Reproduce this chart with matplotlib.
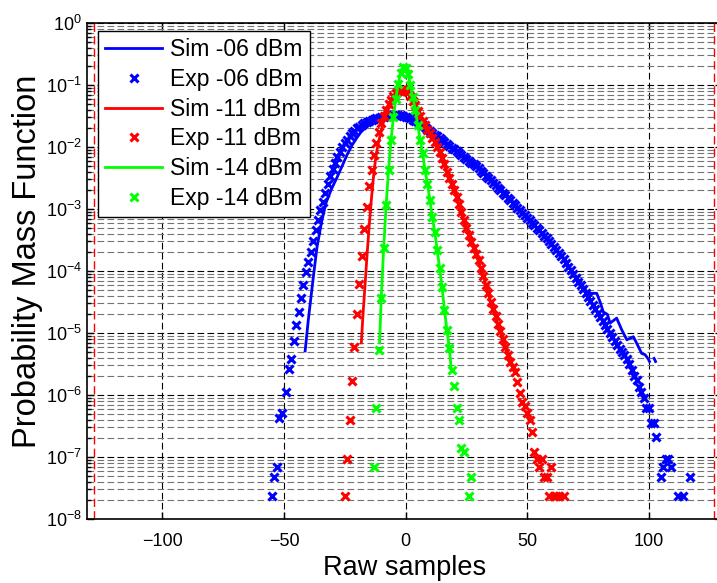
#%%imports
import matplotlib
matplotlib.use("Agg")
import matplotlib.pyplot as plt
from matplotlib.ticker import FixedLocator, NullFormatter, LogFormatterMathtext
import numpy as np

plt.rcParams["font.family"] = ["Liberation Sans", "DejaVu Sans"]
plt.rcParams["mathtext.fontset"] = "custom"
plt.rcParams["mathtext.rm"] = "Liberation Sans"
plt.rcParams["mathtext.default"] = "regular"

#%%data  (y values are log10 of the PMF)
# -06 dBm, experiment
blue_exp_x = [-55, -54, -53, -52, -51] + list(range(-49, 104)) + [105, 106, 107, 108, 109, 112, 114, 117]
blue_exp_ly = [-7.63, -7.32, -7.16, -6.37, -6.29,
               -5.95, -5.58, -5.42, -5.13, -4.87, -4.66, -4.44, -4.23, -4.02, -3.85,
               -3.69, -3.52, -3.34, -3.18, -3.02, -2.88, -2.74, -2.60, -2.47, -2.35,
               -2.25, -2.16, -2.08, -2.00, -1.94, -1.88, -1.83, -1.78, -1.74, -1.70,
               -1.67, -1.65, -1.62, -1.60, -1.58, -1.56, -1.55, -1.54, -1.53, -1.52,
               -1.51, -1.50, -1.50, -1.49, -1.49, -1.49, -1.49, -1.49, -1.50, -1.51,
               -1.52, -1.54, -1.56, -1.58, -1.60, -1.62, -1.65, -1.68, -1.71, -1.74,
               -1.77, -1.80, -1.83, -1.86, -1.89, -1.92, -1.95, -1.98, -2.01, -2.04,
               -2.07, -2.10, -2.13, -2.16, -2.19, -2.22, -2.25, -2.28, -2.31, -2.34,
               -2.38, -2.42, -2.46, -2.50, -2.54, -2.58, -2.62, -2.66, -2.70, -2.74,
               -2.78, -2.82, -2.86, -2.90, -2.94, -2.98, -3.02, -3.06, -3.10, -3.14,
               -3.18, -3.22, -3.26, -3.30, -3.34, -3.38, -3.43, -3.47, -3.52, -3.56,
               -3.61, -3.66, -3.71, -3.76, -3.81, -3.87, -3.93, -3.99, -4.05, -4.11,
               -4.17, -4.23, -4.29, -4.36, -4.42, -4.48, -4.55, -4.61, -4.67, -4.74,
               -4.80, -4.87, -4.93, -5.00, -5.06, -5.13, -5.20, -5.25, -5.30, -5.36,
               -5.42, -5.50, -5.60, -5.70, -5.76, -5.87, -5.95, -6.05, -6.21, -6.21,
               -6.45, -6.45, -6.68,
               -7.32, -7.16, -7.03, -7.03, -7.16, -7.63, -7.63, -7.32]

# -06 dBm, simulation
blue_sim_x = [-41.3, -40, -38, -36.4, -34.5, -32.7, -30.5, -28.3, -26, -24, -22, -20, -18, -15,
              -12, -8, -4, 0, 4, 8, 12, 16, 20, 25, 30, 35, 40, 45, 50, 55, 60, 65, 70, 75,
              78.6, 80, 81.3, 83, 84.1, 86.8, 88.9, 91, 93.7, 95.1, 97.1, 98.5, 99.8, 100.3,
              101, 102.2, 102.8]
blue_sim_ly = [-5.29, -4.79, -4.12, -3.61, -3.20, -2.90, -2.68, -2.50, -2.30, -2.12, -1.97, -1.85,
               -1.74, -1.64, -1.57, -1.52, -1.50, -1.51, -1.58, -1.68, -1.80, -1.91, -2.03,
               -2.16, -2.31, -2.50, -2.70, -2.92, -3.13, -3.34, -3.57, -3.81, -4.08, -4.36,
               -4.36, -4.50, -4.66, -4.70, -4.84, -4.76, -4.95, -5.11, -5.06, -5.17, -5.33,
               -5.35, -5.42, -5.46,
               np.nan, -5.41, -5.46]

# -11 dBm, experiment
red_exp_x = list(range(-25, 64)) + [65]
red_exp_ly = [-7.63, -7.03, -6.40, -5.78, -5.23, -4.69, -4.21, -3.76, -3.32, -2.97,
              -2.63, -2.37, -2.13, -1.93, -1.76, -1.62, -1.50, -1.40, -1.31, -1.24,
              -1.18, -1.13, -1.10, -1.08, -1.07, -1.09, -1.12, -1.18, -1.25, -1.33,
              -1.42, -1.50, -1.58, -1.65, -1.72, -1.78, -1.85, -1.92, -2.00, -2.08,
              -2.18, -2.28, -2.40, -2.50, -2.60, -2.70, -2.80, -2.92, -3.05, -3.17,
              -3.30, -3.42, -3.53, -3.63, -3.73, -3.83, -3.95, -4.08, -4.22, -4.36,
              -4.50, -4.62, -4.73, -4.85, -4.97, -5.10, -5.22, -5.35, -5.47, -5.55,
              -5.63, -5.79, -5.97, -6.11, -6.18, -6.29, -6.40, -6.60, -6.92, -7.03,
              -7.16, -7.03, -7.32, -7.32, -7.63, -7.16, -7.63, -7.63, -7.63, -7.63]

# -11 dBm, simulation
red_sim_x = [-18.2, -17.5, -16.6, -15.8, -15, -14, -13, -12, -11, -10, -9, -8, -7, -6, -5, -4,
             -3, -2, -1, 0, 2, 5, 8, 11, 14, 17, 20, 23, 26, 29, 32, 35, 38, 41, 43, 44]
red_sim_ly = [-5.16, -4.70, -4.19, -3.72, -3.29, -2.82, -2.40, -2.10, -1.90, -1.74, -1.58,
              -1.44, -1.33, -1.24, -1.17, -1.12, -1.09, -1.07, -1.07, -1.09, -1.18, -1.42,
              -1.65, -1.85, -2.08, -2.40, -2.70, -3.05, -3.42, -3.73, -4.08, -4.50, -4.85,
              -5.22, -5.47, -5.55]

# -14 dBm, experiment
green_exp_x = list(range(-13, 25)) + [26, 27]
green_exp_ly = [-7.16, -6.21, -5.28, -4.44, -3.63, -2.94, -2.37, -1.89, -1.52, -1.22,
                -0.98, -0.80, -0.71, -0.72, -0.82, -1.00, -1.20, -1.40, -1.65, -1.88,
                -2.10, -2.37, -2.60, -2.85, -3.13, -3.37, -3.66, -3.95, -4.26, -4.63,
                -4.95, -5.24, -5.60, -5.85, -6.21, -6.40, -6.85, -6.92, -7.63, -7.32]

# -14 dBm, simulation
green_sim_x = [-10.7, -10, -9, -8, -7, -6, -5, -4, -3, -2, -1, 0, 1, 2, 3, 4, 5, 6, 7, 8,
               9, 10, 11, 12, 13, 14, 15, 16, 17, 18, 18.7]
green_sim_ly = [-5.16, -4.44, -3.63, -2.94, -2.37, -1.89, -1.52, -1.22, -0.98, -0.80, -0.71,
                -0.72, -0.82, -1.00, -1.20, -1.40, -1.65, -1.88, -2.10, -2.37, -2.60, -2.85,
                -3.13, -3.37, -3.66, -3.95, -4.26, -4.63, -4.95, -5.24, -5.55]

adc_limits = [-128, 127]
x_ticks = [-100, -50, 0, 50, 100]
y_decades = list(range(-8, 1))


#%%plot
def main():
    fig = plt.figure(figsize=(7.17, 5.83), dpi=100)
    ax = fig.add_axes([87 / 717, 64 / 583, 634.7 / 717, 496 / 583])

    series = [
        (blue_sim_x, blue_sim_ly, blue_exp_x, blue_exp_ly, (0, 0, 1), "-06"),
        (red_sim_x, red_sim_ly, red_exp_x, red_exp_ly, (1, 0, 0), "-11"),
        (green_sim_x, green_sim_ly, green_exp_x, green_exp_ly, (0, 1, 0), "-14"),
    ]
    for sx, sly, ex, ely, col, lab in series:
        ax.plot(sx, 10.0 ** np.array(sly, dtype=float), "-", color=col, lw=2,
                label=f"Sim {lab} dBm", zorder=3)
        ax.plot(ex, 10.0 ** np.array(ely, dtype=float), "x", color=col, ms=5.5, mew=2.2,
                ls="none", label=f"Exp {lab} dBm", zorder=3)

    for xv in adc_limits:
        ax.axvline(xv, color="r", ls=(0, (6, 3)), lw=1, zorder=2)

    ax.set_yscale("log")
    ax.set_xlim(-131, 130)
    ax.set_ylim(1e-8, 1)
    ax.xaxis.set_major_locator(FixedLocator(x_ticks))
    ax.yaxis.set_major_locator(FixedLocator([10.0 ** d for d in y_decades]))
    ax.yaxis.set_major_formatter(LogFormatterMathtext())
    minors = [m * 10.0 ** d for d in y_decades[:-1] for m in range(2, 10)]
    ax.yaxis.set_minor_locator(FixedLocator(minors))
    ax.yaxis.set_minor_formatter(NullFormatter())

    ax.grid(True, which="major", axis="both", color="k", ls=(0, (6, 3)), lw=0.8, zorder=1)
    ax.grid(True, which="minor", axis="y", color="0.45", ls=(0, (6, 3)), lw=0.8, zorder=1)
    ax.set_axisbelow(True)

    ax.tick_params(which="both", direction="in", top=True, right=True,
                   labelsize=13, width=1)
    ax.tick_params(which="major", length=5)
    ax.tick_params(axis="x", which="major", pad=10)
    ax.tick_params(axis="y", which="major", pad=3.5)
    ax.tick_params(which="minor", length=3)
    for sp in ax.spines.values():
        sp.set_linewidth(1.2)

    ax.set_xlabel("Raw samples", fontsize=19.5)
    ax.set_ylabel("Probability Mass Function", fontsize=23.5)
    ax.xaxis.set_label_coords(0.5, -0.072)
    ax.yaxis.set_label_coords(-0.069, 0.52)

    leg = ax.legend(loc="upper left", bbox_to_anchor=(0.0173, 0.984), borderaxespad=0,
                    fontsize=16.5, numpoints=1, fancybox=False, framealpha=1,
                    edgecolor="k", handlelength=2.5, handletextpad=0.35,
                    labelspacing=0.3, borderpad=0.3)
    leg.get_frame().set_linewidth(1)

    fig.savefig("out.png", dpi=100)


if __name__ == "__main__":
    main()
